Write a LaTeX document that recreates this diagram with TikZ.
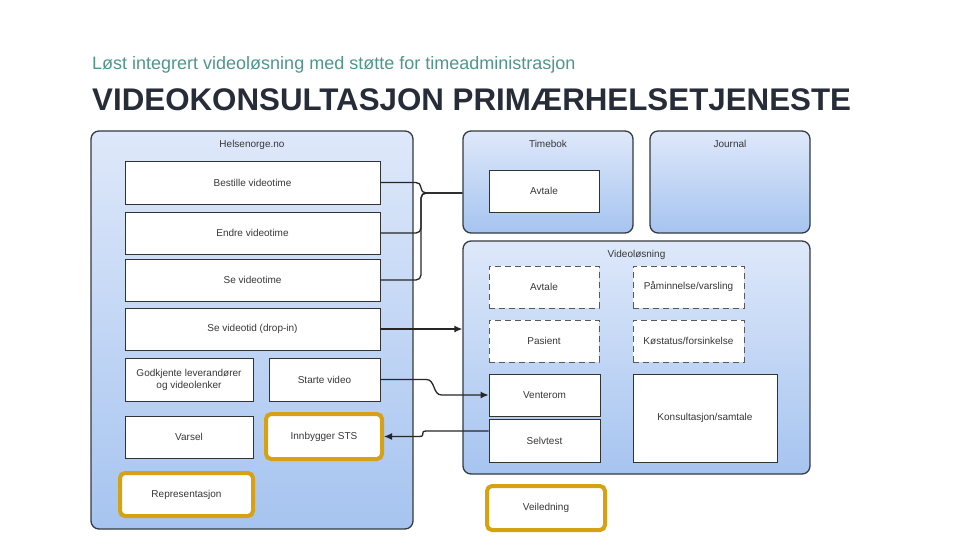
\documentclass[tikz,border=0pt]{standalone}
\usepackage{fontspec}
\setmainfont{Liberation Sans}
\usetikzlibrary{positioning,arrows.meta}

\definecolor{tealtext}{RGB}{78,150,140}
\definecolor{headtext}{RGB}{38,44,56}
\definecolor{paneltop}{RGB}{222,232,250}
\definecolor{panelbot}{RGB}{166,196,240}
\definecolor{panelline}{RGB}{52,58,66}
\definecolor{boxtext}{RGB}{55,55,55}
\definecolor{gold}{RGB}{214,162,20}

\tikzset{
  panel/.style={rectangle, draw=panelline, line width=1.3pt, rounded corners=8pt,
    top color=paneltop, bottom color=panelbot, inner sep=0pt},
  paneltitle/.style={font=\fontsize{10}{12}\selectfont, text=boxtext, inner sep=0pt},
  item/.style={rectangle, draw=black!80, line width=0.8pt, fill=white, inner sep=0pt,
    font=\fontsize{10}{12}\selectfont, text=boxtext, align=center},
  dashitem/.style={item, draw=black!65, dash pattern=on 6pt off 4pt},
  golditem/.style={item, draw=gold, line width=4pt, rounded corners=5pt},
  link/.style={draw=black!85, line width=1.3pt},
  arrow/.style={link, -{Latex[length=8pt,width=7pt]}}
}

\begin{document}
\begin{tikzpicture}[x=1pt, y=-1pt]
  \useasboundingbox (0,0) rectangle (960,540);

  % headings
  \node[anchor=base west, inner sep=0pt, text=tealtext, font=\fontsize{18}{20}\selectfont]
    (subtitle) at (92,70) {Løst integrert videoløsning med støtte for timeadministrasjon};
  \node[anchor=base west, inner sep=0pt, text=headtext, font=\fontsize{31.3}{34}\bfseries]
    (title) at (92,111) {VIDEOKONSULTASJON PRIMÆRHELSETJENESTE};

  % containers
  \node[panel, minimum width=322pt, minimum height=398pt] (helse) at (252,330) {};
  \node[panel, minimum width=170pt, minimum height=102pt] (timebok) at (548,182) {};
  \node[panel, minimum width=160pt, minimum height=102pt] (journal) at (730,182) {};
  \node[panel, minimum width=347pt, minimum height=233pt] (video) at (636.5,357.5) {};
  \node[paneltitle, below=9.5pt of helse.north] {Helsenorge.no};
  \node[paneltitle, below=9.5pt of timebok.north] {Timebok};
  \node[paneltitle, below=9.5pt of journal.north] {Journal};
  \node[paneltitle, below=9.5pt of video.north] {Videoløsning};

  % Helsenorge.no
  \node[item, minimum width=255pt, minimum height=43pt] (bestille) at (252.5,182.5) {Bestille videotime};
  \node[item, minimum width=255pt, minimum height=42pt] (endre) at (252.5,233) {Endre videotime};
  \node[item, minimum width=255pt, minimum height=42pt] (sevideotime) at (252.5,280) {Se videotime};
  \node[item, minimum width=255pt, minimum height=42pt] (sevideotid) at (252.5,329) {Se videotid (drop-in)};
  \node[item, minimum width=128pt, minimum height=43pt] (godkjente) at (189,379.5) {Godkjente leverandører\\og videolenker};
  \node[item, minimum width=111pt, minimum height=43pt] (starte) at (324.5,379.5) {Starte video};
  \node[item, minimum width=128pt, minimum height=42pt] (varsel) at (189,437) {Varsel};
  \node[golditem, minimum width=116pt, minimum height=45pt] (innbygger) at (324,436.5) {Innbygger STS};
  \node[golditem, minimum width=133pt, minimum height=43pt] (representasjon) at (186.5,494.5) {Representasjon};

  % Timebok
  \node[item, minimum width=110pt, minimum height=42pt] (tbavtale) at (544,191) {Avtale};

  % Videoløsning
  \node[dashitem, minimum width=110pt, minimum height=42pt] (vlavtale) at (544,287) {Avtale};
  \node[dashitem, minimum width=111pt, minimum height=42pt] (paminnelse) at (688.5,287) {Påminnelse/varsling};
  \node[dashitem, minimum width=110pt, minimum height=42pt] (pasient) at (544,341) {Pasient};
  \node[dashitem, minimum width=111pt, minimum height=42pt] (kostatus) at (688.5,341) {Køstatus/forsinkelse};
  \node[item, minimum width=111pt, minimum height=42pt] (venterom) at (544.5,395) {Venterom};
  \node[item, minimum width=111pt, minimum height=43pt] (selvtest) at (544.5,440.5) {Selvtest};
  \node[item, minimum width=144pt, minimum height=88pt] (konsultasjon) at (705,418) {Konsultasjon/samtale};
  \node[golditem, minimum width=118pt, minimum height=44pt] (veiledning) at (546,508) {Veiledning};

  % connectors
  \coordinate (merge) at (421,193);
  \draw[link, rounded corners=5pt] (bestille.east) -| (merge) -- (merge -| timebok.west);
  \draw[link, rounded corners=5pt] (endre.east) -| (merge) -- (merge -| timebok.west);
  \draw[link, rounded corners=5pt] (sevideotime.east) -| (merge) -- (merge -| timebok.west);
  \draw[arrow] (sevideotid.east) -- (sevideotid.east -| video.west);
  \draw[arrow] (starte.east) -- ++(46,0) .. controls +(9,0) and +(-9,0) .. ([xshift=-47pt]venterom.west) -- (venterom.west);
  \draw[arrow] ([yshift=9.5pt]selvtest.west) -- ++(-62,0) .. controls +(-8,0) and +(8,0) .. ([xshift=35pt]innbygger.east) -- (innbygger.east);
\end{tikzpicture}
\end{document}
